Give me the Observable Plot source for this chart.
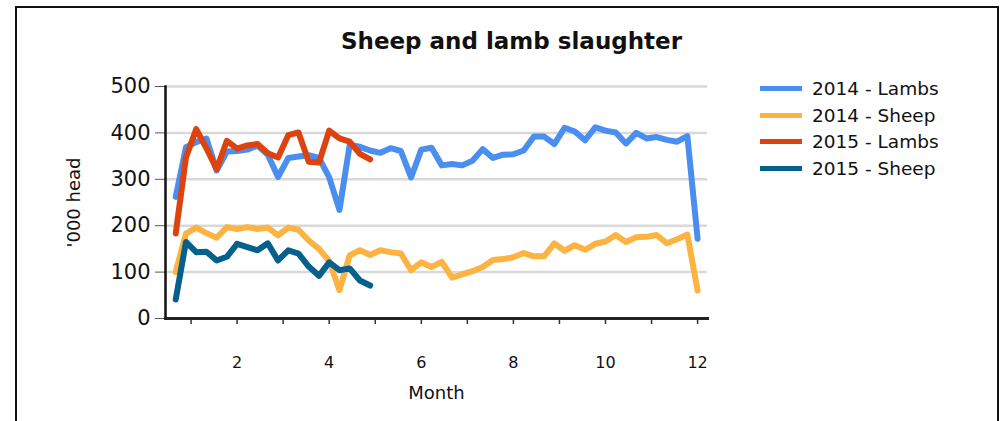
<!DOCTYPE html>
<html><head><meta charset="utf-8">
<script src="https://cdn.jsdelivr.net/npm/d3@7"></script>
<script src="https://cdn.jsdelivr.net/npm/@observablehq/plot@0.6"></script>
<style>
body{margin:0;background:#fff;font-family:"DejaVu Sans",sans-serif;}
#wrap{position:relative;width:1005px;height:421px;overflow:hidden;}
#frame{position:absolute;left:15px;top:6px;width:984px;height:430px;border:2px solid #111;box-sizing:border-box;pointer-events:none;}
#chart{position:absolute;left:0;top:0;}
#legend{position:absolute;left:760px;top:75px;}
.item{display:flex;align-items:center;height:26.7px;font-size:18.5px;color:#111;white-space:nowrap;}
.sw{width:42px;height:5px;margin-right:10px;}
</style></head>
<body>
<div id="wrap"><div id="chart"></div><div id="frame"></div><div id="legend"></div></div>
<script>
const title = "Sheep and lamb slaughter";
const yLabel = "'000 head";
const xLabel = "Month";
const seriesNames = ["2014 - Lambs", "2014 - Sheep", "2015 - Lambs", "2015 - Sheep"];
const seriesColors = ["#4a8fef", "#fdb341", "#dd430f", "#05618b"];
const yTicks = [0, 100, 200, 300, 400, 500];
const xTicksMinor = [1,2,3,4,5,6,7,8,9,10,11,12];
const xTickLabels = [2,4,6,8,10,12];
// weekly values, week 1..52
const lambs2014 = [262,369,380,388,319,360,361,364,373,353,305,346,349,352,346,304,234,374,370,362,357,367,361,304,364,368,330,333,330,340,365,346,353,354,362,392,392,376,411,403,384,412,405,401,377,400,388,391,385,381,393,172];
const sheep2014 = [100,183,196,184,174,197,193,197,193,196,179,196,191,168,150,124,61,136,147,137,147,143,140,104,121,111,122,88,95,102,111,126,128,132,141,134,134,162,146,158,148,161,166,180,165,175,176,180,162,171,181,60];
const lambs2015 = [183,347,408,367,322,383,366,373,376,356,347,395,401,338,336,405,388,381,355,343];
const sheep2015 = [41,165,143,144,125,133,161,154,147,162,125,147,140,112,92,121,104,108,82,71];
const seriesValues = [lambs2014, sheep2014, lambs2015, sheep2015];

const weekToMonth = w => (w + 2) / 4.5;
const data = seriesValues.flatMap((vals, s) => vals.map((v, i) => ({series: seriesNames[s], week: i + 1, value: v})));

const font = '"DejaVu Sans", sans-serif';
const chart = Plot.plot({
  width: 1005, height: 421,
  marginLeft: 165, marginRight: 298, marginTop: 86, marginBottom: 103,
  style: {fontFamily: font, background: "transparent", color: "#111", overflow: "visible"},
  x: {domain: [0.445, 12.215]},
  y: {domain: [0, 500]},
  color: {domain: seriesNames, range: seriesColors},
  marks: [
    Plot.gridY([100,200,300,400,500], {stroke: "#d9d9d9", strokeOpacity: 1, strokeWidth: 2.5}),
    Plot.axisY(yTicks, {tickSize: 10, tickPadding: 5, fontSize: 21, label: null, stroke: "#555"}),
    Plot.axisX(xTicksMinor, {tickSize: 6, tickFormat: () => "", label: null, stroke: "#333", strokeWidth: 1.5}),
    Plot.axisX(xTickLabels, {tickSize: 0, tickPadding: 38, fontSize: 16, label: null}),
    Plot.line(data, {x: d => weekToMonth(d.week), y: "value", z: "series", stroke: "series", strokeWidth: 6, strokeLinejoin: "round", strokeLinecap: "round"}),
    Plot.frame({anchor: "left", stroke: "#111", strokeWidth: 2.5}),
    Plot.frame({anchor: "bottom", stroke: "#222", strokeWidth: 3}),
    Plot.text([xLabel], {frameAnchor: "bottom", text: d => d, dy: 80, fontSize: 18}),
    Plot.text([yLabel], {frameAnchor: "left", textAnchor: "middle", text: d => d, rotate: -90, dx: -91, fontSize: 18}),
    Plot.text([title], {frameAnchor: "top", text: d => d, dx: 75, dy: -54, fontSize: 23, fontWeight: "bold"})
  ]
});
document.getElementById("chart").appendChild(chart);

const legend = document.getElementById("legend");
seriesNames.forEach((n, i) => {
  const it = document.createElement("div");
  it.className = "item";
  it.innerHTML = `<span class="sw" style="background:${seriesColors[i]}"></span><span>${n}</span>`;
  legend.appendChild(it);
});
</script>
</body></html>
